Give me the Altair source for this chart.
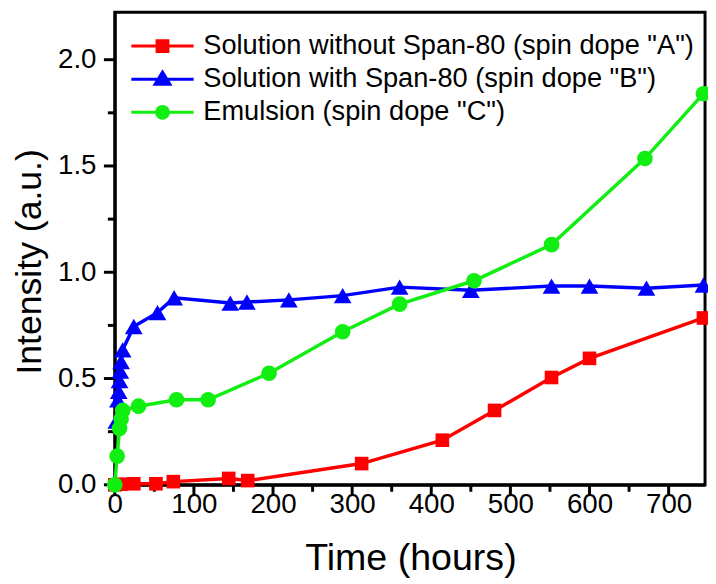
import altair as alt
import pandas as pd

labels = [
    'Solution without Span-80 (spin dope "A")',
    'Solution with Span-80 (spin dope "B")',
    'Emulsion (spin dope "C")',
]
colors = ["#FF0000", "#0000FF", "#11EE11"]
shapes = ["square", "triangle-up", "circle"]
sizes = [190, 320, 250]

tA = [0, 8, 24, 52, 74, 144, 168, 312, 414, 480, 552, 600, 744]
yA = [0.0, 0.003, 0.005, 0.005, 0.015, 0.03, 0.02, 0.10, 0.21, 0.35, 0.505, 0.595, 0.785]

tB = [2, 4, 5, 6, 7, 8, 10, 24, 54, 75, 146, 167, 220, 288, 360, 450, 552, 600, 672, 744]
yB = [0.30, 0.40, 0.44, 0.49, 0.535, 0.58, 0.635, 0.745, 0.81, 0.88, 0.855, 0.86,
      0.87, 0.89, 0.93, 0.915, 0.935, 0.935, 0.925, 0.94]

tC = [0, 3, 6, 8, 10, 30, 78, 118, 195, 288, 360, 454, 552, 670, 744]
yC = [0.0, 0.135, 0.265, 0.31, 0.35, 0.37, 0.40, 0.40, 0.525, 0.72, 0.85, 0.96, 1.13, 1.535, 1.84]

x_major = list(range(0, 701, 100))
x_minor = list(range(50, 701, 100))
y_major = [0.0, 0.5, 1.0, 1.5, 2.0]
y_minor = [0.25, 0.75, 1.25, 1.75]

rows = []
for lab, ts, ys in zip(labels, [tA, tB, tC], [yA, yB, yC]):
    for i, (t, v) in enumerate(zip(ts, ys)):
        rows.append({"series": lab, "t": t, "y": v, "order": i})
df = pd.DataFrame(rows)

FONT = "Liberation Sans"
X_DOMAIN = [0, 746]
Y_DOMAIN = [0, 2.2233]
W, H = 597, 478
MAJOR, MINOR = 11, 7

main_x_axis = alt.Axis(
    title="Time (hours)",
    orient="bottom",
    values=x_major,
    grid=False,
    ticks=False,
    tickSize=0,
    domainColor="black",
    domainWidth=3,
    labelFont=FONT,
    labelFontSize=28,
    labelColor="black",
    labelFlush=False,
    labelOverlap=False,
    labelBaseline="alphabetic",
    labelPadding=28,
    titleFont=FONT,
    titleFontSize=38,
    titleFontWeight="normal",
    titleColor="black",
    titleBaseline="alphabetic",
    titleX=299,
    titleY=86,
)

main_y_axis = alt.Axis(
    title="Intensity (a.u.)",
    orient="left",
    values=y_major,
    format=".1f",
    grid=False,
    ticks=False,
    tickSize=0,
    domainColor="black",
    domainWidth=3,
    labelFont=FONT,
    labelFontSize=28,
    labelColor="black",
    labelFlush=False,
    labelOverlap=False,
    labelPadding=19,
    titleFont=FONT,
    titleFontSize=36,
    titleFontWeight="normal",
    titleColor="black",
    titleBaseline="alphabetic",
    titleAngle=270,
    titleX=-75,
    titleY=252,
)

def xq(field="t"):
    return alt.X(field + ":Q", title="Time (hours)",
                 scale=alt.Scale(domain=X_DOMAIN, nice=False, zero=False), axis=main_x_axis)

def yq(field="y"):
    return alt.Y(field + ":Q", title="Intensity (a.u.)",
                 scale=alt.Scale(domain=Y_DOMAIN, nice=False, zero=False), axis=main_y_axis)

base = alt.Chart(df)

layers = []

# axis tick marks (outside the frame), built from the tick value lists
xt = pd.DataFrame({"v": x_major + x_minor, "len": [MAJOR] * len(x_major) + [MINOR] * len(x_minor)})
yt = pd.DataFrame({"v": y_major + y_minor, "len": [MAJOR] * len(y_major) + [MINOR] * len(y_minor)})
for ln in (MAJOR, MINOR):
    layers.append(
        alt.Chart(xt).transform_filter(alt.datum.len == ln)
        .mark_rule(color="black", strokeWidth=3, strokeCap="butt")
        .encode(x=xq("v"), y=alt.value(H), y2=alt.value(H + ln))
    )
for ln in (MAJOR, MINOR):
    layers.append(
        alt.Chart(yt).transform_filter(alt.datum.len == ln)
        .mark_rule(color="black", strokeWidth=3, strokeCap="butt")
        .encode(y=yq("v"), x=alt.value(0), x2=alt.value(-ln))
    )

for lab, col in zip(labels, colors):
    layers.append(
        base.transform_filter(alt.datum.series == lab)
        .mark_line(strokeWidth=3.5, color=col)
        .encode(x=xq(), y=yq(), order="order:Q")
    )
for lab, col, shp, sz in zip(labels, colors, shapes, sizes):
    layers.append(
        base.transform_filter(alt.datum.series == lab)
        .mark_point(filled=True, opacity=1, shape=shp, size=sz, color=col)
        .encode(x=xq(), y=yq())
    )

# legend symbols: a line segment with the marker drawn in its middle
legend_paths = [
    "M-3.15,0L3.15,0M-0.55,-0.55L0.55,-0.55L0.55,0.55L-0.55,0.55Z"
    "M-0.3,-0.3L0.3,-0.3L0.3,0.3L-0.3,0.3ZM-0.08,-0.08L0.08,-0.08L0.08,0.08L-0.08,0.08Z",
    "M-3.15,0L3.15,0M0,-0.72L0.75,0.52L-0.75,0.52Z"
    "M0,-0.348L0.4125,0.334L-0.4125,0.334ZM0,-0.058L0.15,0.19L-0.15,0.19Z",
    "M-3.15,0L3.15,0M-0.6,0A0.6,0.6 0 1,0 0.6,0A0.6,0.6 0 1,0 -0.6,0Z"
    "M-0.35,0A0.35,0.35 0 1,0 0.35,0A0.35,0.35 0 1,0 -0.35,0Z"
    "M-0.1,0A0.1,0.1 0 1,0 0.1,0A0.1,0.1 0 1,0 -0.1,0Z",
]

legend = alt.Legend(
    title=None,
    orient="none",
    legendX=34.5,
    legendY=20.5,
    padding=0,
    labelFont=FONT,
    labelFontSize=27.5,
    labelColor="black",
    labelOffset=27.5,
    labelLimit=700,
    rowPadding=4.5,
    symbolSize=400,
    symbolStrokeWidth=3,
    symbolOpacity=1,
)

# layer that only carries the legend; it draws no marks
layers.append(
    base.transform_filter("datum.t < -1000")
    .mark_point(filled=False, opacity=1, strokeWidth=3)
    .encode(
        x=xq(),
        y=yq(),
        color=alt.Color("series:N", scale=alt.Scale(domain=labels, range=colors), legend=legend),
        shape=alt.Shape("series:N", scale=alt.Scale(domain=labels, range=legend_paths), legend=legend),
    )
)

chart = (
    alt.layer(*layers)
    .properties(
        width=W,
        height=H,
        autosize=alt.AutoSizeParams(type="none"),
        padding={"left": 108, "top": 1, "right": 3, "bottom": 95},
        background="white",
    )
    .configure_view(stroke="black", strokeWidth=3)
)

chart.save("out.html", embed_options={"renderer": "svg", "actions": False})
